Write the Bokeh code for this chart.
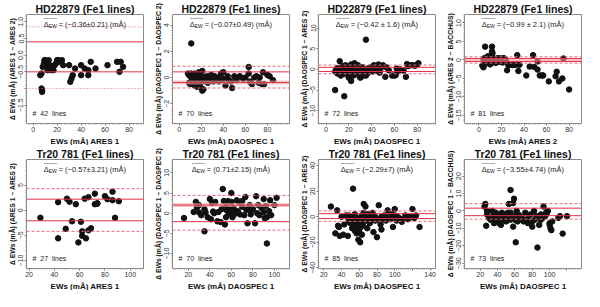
from bokeh.plotting import figure
from bokeh.layouts import column, row
from bokeh.models import Range1d, FixedTicker, Label, Span, Title
from bokeh.embed import file_html
from bokeh.resources import INLINE

FONT = "Liberation Sans"

# ---------------- data ----------------
titles = ["HD22879 (Fe1 lines)"] * 4 + ["Tr20 781 (Fe1 lines)"] * 4
xlabels = ["EWs (mÅ) ARES 1", "EWs (mÅ) DAOSPEC 1", "EWs (mÅ) DAOSPEC 1", "EWs (mÅ) ARES 2",
           "EWs (mÅ) ARES 1", "EWs (mÅ) DAOSPEC 1", "EWs (mÅ) DAOSPEC 1", "EWs (mÅ) DAOSPEC 1"]
ylabels = ["Δ EWs (mÅ) (ARES 1 − ARES 2)", "Δ EWs (mÅ) (DAOSPEC 1 − DAOSPEC 2)",
           "Δ EWs (mÅ) (DAOSPEC 1 − ARES 2)", "Δ EWs (mÅ) (ARES 2 − BACCHUS)",
           "Δ EWs (mÅ) (ARES 1 − ARES 2)", "Δ EWs (mÅ) (DAOSPEC 1 − DAOSPEC 2)",
           "Δ EWs (mÅ) (DAOSPEC 1 − ARES 2)", "Δ EWs (mÅ) (DAOSPEC 1 − BACCHUS)"]
stats = ["= (−0.36±0.21) (mÅ)", "= (−0.07±0.49) (mÅ)", "= (−0.42 ± 1.6) (mÅ)", "= (−0.99 ± 2.1) (mÅ)",
         "= (−0.57±3.21) (mÅ)", "= (0.71±2.15) (mÅ)", "= (−2.29±7) (mÅ)", "= (−3.55±4.74) (mÅ)"]
nlines = [42, 70, 72, 81, 27, 70, 85, 73]

x_lims = [(-5.5, 92), (-6, 100), (-6.6, 96), (-12.8, 91), (18, 110.5), (5.3, 114), (14, 146), (2, 136.7)]
y_lims = [(-2.05, 1.22), (-3.5, 4.8), (-13.1, 13.3), (-17.2, 12.3), (-11.6, 10.1), (-13.7, 13.3),
          (-40.5, 44.8), (-33, 29.5)]

x_ticks = [[0, 20, 40, 60, 80], [0, 20, 40, 60, 80], [0, 20, 40, 60, 80], [0, 20, 40, 60, 80],
           [20, 40, 60, 80, 100], [20, 40, 60, 80, 100], [20, 40, 60, 80, 100, 120, 140],
           [20, 40, 60, 80, 100, 120]]
x_hidden = [[], [], [], [], [], [], [120], [120]]
y_ticks = [[-1.5, -1.0, -0.5, 0.0, 0.5, 1.0], [-2, 0, 2, 4], [-10, -5, 0, 5, 10],
           [-15, -10, -5, 0, 5, 10], [-10, -5, 0, 5], [-10, -5, 0, 5, 10],
           [-40, -20, 0, 20, 40], [-30, -20, -10, 0, 10, 20]]
y_hidden = [[-1.0], [], [], [], [], [], [], []]
y_fmt = ["{:.1f}", "{:.0f}", "{:.0f}", "{:.0f}", "{:.0f}", "{:.0f}", "{:.0f}", "{:.0f}"]

solid_lines = [[0.4, -0.5], [0.43, -0.38], [0.5, -0.5], [0.4, -0.4],
               [2.2, -2.1], [2.0, -2.1], [2.4, -1.4], [1.6, -2.7]]
dash_lines = [[0.85, -1.0], [0.86, -0.8], [1.06, -1.06], [0.85, -0.85],
              [4.3, -4.2], [4.4, -4.2], [4.5, -3.6], [4.2, -4.7]]
dash_styles = ["1 2", "3 2", "3 2", "3 2", "3 2", "3 2", "3 2", "3 2"]
bands = [[], [-0.38], [], [0.0], [], [2.0], [], []]

x1 = [6, 7, 7, 7.5, 7.5, 8, 9, 9.5, 10, 10, 11, 12, 12, 13, 14, 15, 16, 17, 18, 19, 20, 21, 22, 24, 25,
      30, 31, 32, 33, 35, 40, 40, 43, 46, 46, 48, 52, 62, 70, 72, 73, 75]
y1 = [-0.6, -0.55, -1.0, -1.05, -1.1, -0.35, -0.25, -0.15, -0.15, -0.3, -0.2, -0.45, -0.35, -0.15, -0.3,
      -0.45, -0.35, -0.45, -0.3, -0.25, -0.15, -0.15, -0.2, -0.15, -0.3,
      -0.3, -0.8, -0.7, -0.6, -0.4, -0.3, -0.6, -0.4, -0.6, -0.45, -0.2, -0.4, -0.3, -0.2, -0.5, -0.2, -0.35]

x2 = [8, 9, 9, 10, 10, 11, 11, 12, 12, 13, 13, 14, 14, 15, 15, 16, 16, 17, 17, 18, 18, 19, 20, 20, 21,
      21, 22, 22, 23, 24, 25, 26, 27, 28, 29, 30, 31, 32, 33, 35, 36, 38, 40, 40, 42, 44, 45, 47, 48, 50,
      52, 55, 58, 60, 63, 63, 64, 65, 66, 68, 70, 72, 73, 75, 76, 77, 80, 82, 85, 11]
y2 = [0.3, -0.4, 0.2, -0.5, 0.1, 0.3, -0.3, 0.0, -0.5, 0.2, -0.2, -0.6, 0.3, 0.0, -0.4, 0.1, -0.7, 0.2,
      -0.3, 0.0, 0.4, -0.5, 0.1, -0.8, 0.5, -1.0, -0.2, -0.9, 0.0, -0.3, 0.1, -0.4, 0.0, -0.2, 0.2, 0.0,
      -0.3, 0.1, -0.2, 0.0, -0.3, 0.3, 0.4, -0.1, -0.6, 0.1, -0.2, -0.3, -0.8, 0.1, -0.2, 0.1, -0.1, 0.0,
      0.8, 0.3, -0.3, -0.4, -0.5, 0.0, 0.1, -0.4, 0.0, -0.5, 0.4, -0.5, 0.2, 0.1, -0.2, 2.6]

x3 = [8, 8, 9, 10, 10, 11, 12, 12, 13, 13, 14, 15, 15, 16, 16, 17, 17, 18, 18, 19, 20, 20, 21, 22, 22,
      23, 24, 25, 25, 26, 27, 28, 29, 30, 30, 31, 32, 32, 33, 34, 35, 35, 36, 37, 38, 40, 41, 42, 44, 45,
      46, 47, 48, 50, 52, 53, 55, 58, 60, 61, 62, 63, 65, 68, 70, 71, 72, 74, 76, 78, 80, 81]
y3 = [-5.0, -0.5, 0.0, -1.0, 0.3, -0.3, 2.0, -0.8, 0.5, -1.5, -0.2, 0.8, -1.0, -6.5, 0.2, -0.6, 1.0,
      -1.2, 0.0, -0.4, -2.0, 0.6, -0.9, 1.2, -2.8, 0.0, -1.5, 1.5, -0.5, 0.3, -1.2, 1.0, -0.3, -2.0, 0.2,
      -1.8, -0.6, 0.5, -1.0, -0.2, 7.2, -1.5, 0.0, -0.8, 0.4, 0.6, -0.5, 1.0, 0.0, -0.4, 1.2, -0.8, 0.3,
      1.0, -1.8, 0.5, -0.2, -1.5, -1.5, -1.4, 0.2, -0.5, 0.0, -0.3, -1.8, 1.3, 0.8, 1.0, 1.0, 0.9, 1.2, 1.5]

x4 = [3, 4, 4, 5, 5, 5, 6, 6, 6, 7, 7, 7, 8, 8, 8, 9, 9, 9, 10, 10, 10, 11, 11, 11, 12, 12, 12, 13, 13,
      13, 14, 14, 14, 15, 15, 16, 16, 17, 17, 18, 18, 19, 19, 20, 20, 21, 21, 22, 22, 23, 23, 24, 25,
      5.5, 11.6, 11.6, 12,
      26, 28, 30, 31, 33, 34, 35, 36, 42, 45, 48, 49, 52, 52, 54, 56, 57, 62, 68, 69, 71, 74, 75, 80]
y4 = [-1.5, 0.2, -2.0, 0.5, -0.3, 0.0, 0.3, -1.0, 0.1, -0.5, 0.4, 0.0, 0.2, -0.8, 1.0, 0.0, -0.3, 0.5,
      0.3, -1.2, -0.2, 0.0, 0.6, -0.5, 0.2, -0.3, 0.8, 0.0, -0.6, 0.4, 0.1, -0.4, 0.3, 0.0, -0.8, 0.2,
      -0.2, 0.5, -0.1, 0.0, -0.5, 0.3, -0.3, 0.4, -0.2, 0.0, -0.7, 0.5, 0.1, -0.3, 0.2, 0.0, -2.8,
      3.6, 3.6, 2.3, 1.8,
      -1.3, -1.3, -1.4, -1.2, -1.3, 1.3, -3.0, -1.3, -4.2, -1.8, 1.3, -1.9, -0.4, -2.6, -4.2, -4.2, -4.2,
      -5.8, -4.4, -3.2, -5.8, -5.0, 0.4, -8.0]

x5 = [29, 43, 43, 49, 50, 52, 54, 57, 59, 61, 62, 62, 64, 65, 67, 67, 69, 72, 72, 74, 74, 80, 82, 86,
      86, 88, 91]
y5 = [-1.5, -5.6, 1.6, -3.7, 2.3, 1.7, -2.2, 1.2, -6.4, -2.3, -4.2, -5.1, 2.3, -5.6, 2.6, -4.0, -3.6,
      3.3, 1.2, 1.3, 1.4, 2.8, 2.2, 3.7, 2.0, -1.5, 1.8]

x6 = [16, 25, 27, 28, 28, 30, 30, 32, 35, 35, 36, 38, 40, 41, 42, 43, 44, 45, 47, 48, 50, 51, 52, 53,
      54, 55, 55, 56, 57, 58, 58, 59, 60, 60, 61, 62, 62, 63, 65, 66, 67, 68, 70, 70, 72, 73, 74, 75, 76,
      77, 78, 78, 80, 82, 83, 84, 85, 86, 88, 90, 90, 91, 92, 93, 93, 95, 96, 97, 100, 102]
y6 = [-1.2, 0.3, 2.8, 1.5, 2.2, 0.2, 2.0, -0.5, -4.5, 1.0, 0.2, -1.0, 3.5, -1.5, 2.5, 0.4, 0.0, 2.8,
      -2.0, 0.3, -2.2, 1.0, 6.0, 3.0, -2.8, 1.5, -1.0, 0.6, 3.0, 0.0, -0.2, 1.0, 5.0, 2.8, -1.0, 0.5, 1.2,
      -0.2, 3.2, 0.5, 2.8, -0.3, 1.6, 3.0, -0.5, 4.0, 0.8, -2.5, 1.2, 2.0, -0.3, 0.5, 1.0, -2.5, 4.2, 0.0,
      2.0, -0.5, 1.3, 3.5, 0.3, -1.2, 1.8, -7.5, -1.0, 0.5, 3.2, -0.5, 2.0, 3.8]

x7 = [28, 33, 35, 36, 37, 38, 40, 42, 43, 45, 46, 47, 48, 48, 50, 50, 52, 52, 53, 54, 55, 55, 56, 57,
      58, 58, 59, 60, 60, 61, 62, 62, 63, 63, 64, 65, 65, 66, 67, 67, 68, 68, 69, 70, 70, 72, 72, 73, 75,
      75, 76, 78, 78, 80, 80, 82, 84, 85, 85, 86, 87, 88, 90, 90, 92, 95, 96, 98, 99, 100, 100, 102, 103,
      105, 108, 110, 112, 113, 115, 117, 118, 120, 122, 124, 128]
y7 = [8, -13, 5, -7, -8, -15, 0, -14, -6, 1, 0, -15, -4, 1, 0, -5, -2, -9, 22, -5, -11, 2, -4, -13, -8,
      -1, -18, -6, -12, -20, -3, -8, 1, -14, -6, 10, 3, -2, -1, 8, -3, 0, -9, -2, 2, -5, 0, 1, -1, 3, -12,
      -3, 0, -2, -16, 9, -6, 0, -10, -2, -1, 1, -3, 0, 5, -2, 2, -8, 0, 6, 1, -3, 0, -1, -4, -2, 1, -1, -2,
      0, 0, 6, -1, 1, -8]

x8 = [25, 26, 27, 28, 28, 30, 32, 34, 35, 36, 37, 38, 38, 40, 40, 42, 43, 44, 45, 46, 47, 48, 50, 50,
      52, 53, 55, 55, 55, 56, 57, 58, 58, 59, 60, 60, 61, 62, 63, 64, 65, 66, 68, 70, 72, 73, 75, 76, 78,
      80, 80, 82, 83, 85, 86, 88, 90, 90, 92, 93, 95, 96, 97, 98, 100, 100, 101, 102, 103, 110, 112, 115,
      120]
y8 = [2.5, 4, -8.5, 0, -2, -4, -5, 0, -3, -7, -2, -5, -1, -4, -3, -7, -2, -8, -1, -5, -3, -2, -6, -3,
      -1, 4, 12, -5, -1, -4, -4, -9, 4.5, 7, -3, -5, -18, 0, -6, -2, -5, -3, -4, -6, -1, -5, -7, -3, -2,
      -6, -9, 0, -5, -3, -21, -8, -2, -5, -4, 2.5, -3, -1, -1, 0, -7, -8, -10, -11, -6, -4, -3, -13, -3]

xs = [x1, x2, x3, x4, x5, x6, x7, x8]
ys = [y1, y2, y3, y4, y5, y6, y7, y8]

# ---------------- helpers ----------------
HW = {'=': .584, ' ': .278, '(': .333, ')': .333, '−': .584, '.': .278, '±': .584, 'm': .833, 'Å': .667}


def text_w(s, fs):
    return sum(HW.get(c, .556) for c in s) * fs


RED = "#de3344"
RED_L = "#e66a78"
TXT = "#222222"
NB = "\u00a0"


def make_panel(i):
    xr, yr = x_lims[i], y_lims[i]
    p = figure(width=146, height=145, x_range=Range1d(*xr), y_range=Range1d(*yr),
               output_backend="svg", toolbar_location=None, title=titles[i],
               min_border_left=26, min_border_right=3, min_border_top=0, min_border_bottom=0)
    p.title.text_font = FONT
    p.title.text_font_size = "10.5px"
    p.title.text_font_style = "bold"
    p.title.align = "center"
    p.title.standoff = 0
    p.title.offset = 0
    p.title.text_color = "#111111"
    p.outline_line_color = "#8a8a8a"
    p.outline_line_width = 1
    p.grid.visible = False
    p.background_fill_color = "white"
    p.border_fill_color = "white"

    xt = x_ticks[i]
    xstep = xt[1] - xt[0]
    xminor = [xt[0] - xstep + k * xstep / 10 for k in range(10 * (len(xt) + 2))]
    p.xaxis.ticker = FixedTicker(ticks=xt, minor_ticks=xminor)
    p.xaxis.major_label_overrides = {t: ("" if t in x_hidden[i] else str(t)) for t in xt}
    yt = y_ticks[i]
    ystep = yt[1] - yt[0]
    yminor = [yt[0] - ystep + k * ystep / 10 for k in range(10 * (len(yt) + 2))]
    p.yaxis.ticker = FixedTicker(ticks=yt, minor_ticks=yminor)
    p.yaxis.major_label_overrides = {
        t: ("" if t in y_hidden[i] else y_fmt[i].format(t).replace("-", "−")) for t in yt}
    for ax in (p.xaxis[0], p.yaxis[0]):
        ax.axis_line_color = None
        ax.major_tick_in = 0
        ax.major_tick_out = 2
        ax.minor_tick_in = 0
        ax.minor_tick_out = 1
        ax.major_tick_line_color = "#666666"
        ax.minor_tick_line_color = "#999999"
        ax.major_label_text_font = FONT
        ax.major_label_text_font_size = "7px"
        ax.major_label_text_color = "#333333"
        ax.major_label_standoff = 1
    p.yaxis.major_label_orientation = "vertical"

    # axis titles as side titles (tighter than axis labels)
    p.add_layout(Title(text=xlabels[i], align="center", text_font=FONT, text_font_size="8px",
                       text_font_style="bold", text_color="#111111", standoff=0, offset=0), "below")
    p.add_layout(Title(text=ylabels[i], align="center", text_font=FONT, text_font_size="6.8px",
                       text_font_style="bold", text_color="#111111", standoff=0, offset=0), "left")

    for b in bands[i]:
        p.add_layout(Span(location=b, dimension="width", line_color="#f2a0a8", line_width=4,
                          line_alpha=0.6))
    for v in dash_lines[i]:
        p.add_layout(Span(location=v, dimension="width", line_color=RED_L, line_width=1,
                          line_dash=dash_styles[i]))
    for v in solid_lines[i]:
        p.add_layout(Span(location=v, dimension="width", line_color=RED, line_width=1))

    p.scatter(xs[i], ys[i], size=5.5, color="#111111", line_color="#111111")

    # statistics annotation
    fs = 7.5
    main = stats[i]
    w = text_w(main, fs) + 15
    xc = (xr[0] + xr[1]) / 2
    left = -w / 2
    common = dict(x=xc, y=yr[1], text_font=FONT, text_color=TXT, text_align="left",
                  text_baseline="alphabetic")
    p.add_layout(Label(text="Δ", x_offset=left, y_offset=-10, text_font_size=f"{fs}px", **common))
    p.add_layout(Label(text="EW", x_offset=left + 5, y_offset=-11.5, text_font_size="5px", **common))
    p.add_layout(Label(text="____", x_offset=left, y_offset=-1.5, text_font_size="6px", **common))
    p.add_layout(Label(text=main, x_offset=left + 15, y_offset=-10, text_font_size=f"{fs}px", **common))

    # number of lines
    p.add_layout(Label(x=xr[0], y=yr[0], x_offset=6, y_offset=10,
                       text=f"#{NB}{NB}{nlines[i]}{NB}{NB}lines",
                       text_font=FONT, text_font_size="7px", text_color=TXT,
                       text_baseline="alphabetic"))
    return p


panels = [make_panel(i) for i in range(8)]
layout = column(row(*panels[:4]), row(*panels[4:]))

open("out.html", "w").write(file_html(layout, INLINE))
